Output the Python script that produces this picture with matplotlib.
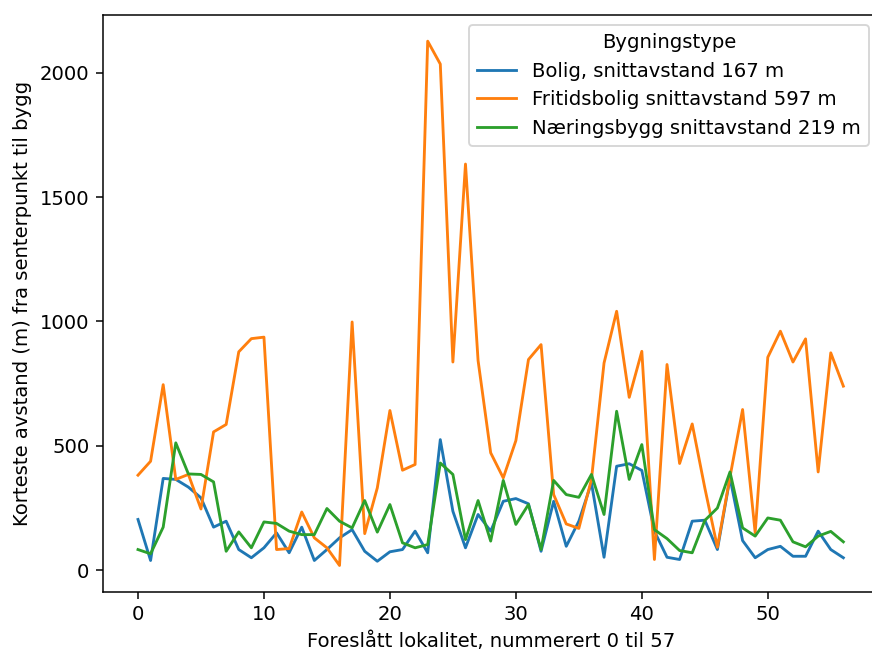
import matplotlib
matplotlib.use("Agg")
import matplotlib.pyplot as plt

# Korteste avstand (m) fra senterpunkt til nærmeste bygg, per lokalitet
lokalitet = list(range(57))

bolig = [204, 39, 369, 365, 334, 291, 173, 197, 83, 50,
         90, 150, 70, 173, 39, 83, 130, 163, 76, 36,
         74, 83, 157, 70, 525, 237, 90, 224, 157, 277,
         288, 267, 76, 277, 96, 197, 351, 52, 418, 428,
         401, 157, 52, 43, 197, 201, 83, 371, 119, 50,
         83, 96, 56, 56, 157, 83, 50]

fritidsbolig = [382, 438, 746, 365, 385, 246, 556, 586, 878, 931,
                937, 83, 87, 234, 130, 90, 19, 998, 147, 331,
                642, 402, 425, 2127, 2035, 837, 1633, 843, 472, 371,
                521, 847, 907, 304, 186, 168, 365, 833, 1041, 695,
                880, 43, 827, 429, 588, 331, 92, 375, 646, 150,
                856, 961, 837, 930, 395, 874, 740]

naeringsbygg = [83, 66, 173, 512, 387, 385, 355, 76, 154, 90,
                194, 188, 157, 143, 143, 248, 197, 170, 280, 153,
                264, 110, 90, 103, 431, 385, 123, 280, 117, 361,
                184, 264, 83, 361, 304, 293, 385, 224, 639, 365,
                505, 163, 127, 79, 70, 200, 250, 395, 170, 137,
                210, 201, 114, 94, 137, 156, 114]

plt.rcParams['font.size'] = 10.4

fig = plt.figure(figsize=(6.4, 4.793), dpi=136.25)
# aksen går litt ut over høyre kant av bildet
ax = fig.add_axes([0.1178, 0.0939, 0.8898, 0.8831])

ax.plot(lokalitet, bolig, label="Bolig, snittavstand 167 m")
ax.plot(lokalitet, fritidsbolig, label="Fritidsbolig snittavstand 597 m")
ax.plot(lokalitet, naeringsbygg, label="Næringsbygg snittavstand 219 m")

ax.set_xlabel("Foreslått lokalitet, nummerert 0 til 57")
ax.set_ylabel("Korteste avstand (m) fra senterpunkt til bygg")
ax.legend(title="Bygningstype", loc="upper right")

plt.savefig("out.png")
